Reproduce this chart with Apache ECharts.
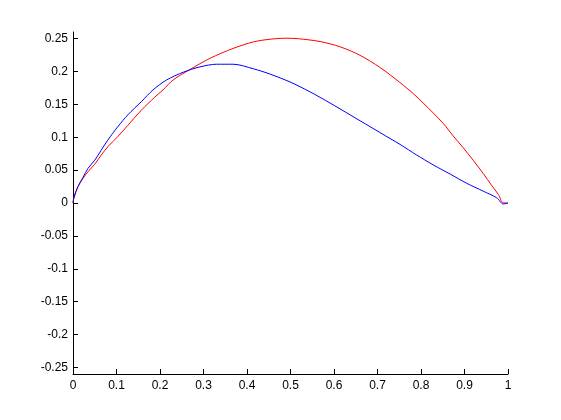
<!DOCTYPE html>
<html>
<head>
<meta charset="utf-8">
<script src="https://cdn.jsdelivr.net/npm/echarts@6/dist/echarts.min.js"></script>
<style>html,body{margin:0;padding:0;background:#fff}#c{width:561px;height:420px}</style>
</head>
<body>
<div id="c"></div>
<script>
const xTicks = [0, 0.1, 0.2, 0.3, 0.4, 0.5, 0.6, 0.7, 0.8, 0.9, 1];
const yTicks = [-0.25, -0.2, -0.15, -0.1, -0.05, 0, 0.05, 0.1, 0.15, 0.2, 0.25];

const redX = [0, 0.0023, 0.0115, 0.023, 0.0345, 0.05, 0.065, 0.08, 0.103, 0.126, 0.157, 0.188, 0.207, 0.23, 0.269, 0.315, 0.368, 0.415, 0.453, 0.49, 0.518, 0.568, 0.614, 0.66, 0.706, 0.752, 0.782, 0.805, 0.828, 0.851, 0.874, 0.897, 0.92, 0.943, 0.962, 0.978, 0.988, 1.0];
const redY = [0, 0.0074, 0.025, 0.0375, 0.0475, 0.059, 0.073, 0.0855, 0.101, 0.118, 0.141, 0.161, 0.172, 0.187, 0.203, 0.220, 0.235, 0.245, 0.249, 0.2505, 0.2498, 0.2455, 0.2375, 0.2245, 0.206, 0.183, 0.1665, 0.152, 0.137, 0.121, 0.102, 0.084, 0.065, 0.045, 0.027, 0.013, 0.0005, 0.0];

const blueX = [0, 0.0023, 0.0115, 0.023, 0.0345, 0.05, 0.065, 0.08, 0.103, 0.126, 0.157, 0.184, 0.215, 0.254, 0.292, 0.33, 0.368, 0.415, 0.453, 0.499, 0.545, 0.591, 0.637, 0.683, 0.729, 0.752, 0.79, 0.828, 0.867, 0.905, 0.943, 0.974, 0.989, 1.0];
const blueY = [0, 0.0096, 0.025, 0.039, 0.0527, 0.065, 0.0804, 0.0956, 0.116, 0.134, 0.154, 0.172, 0.187, 0.199, 0.207, 0.211, 0.211, 0.204, 0.196, 0.184, 0.169, 0.152, 0.134, 0.116, 0.098, 0.089, 0.073, 0.058, 0.044, 0.030, 0.018, 0.008, -0.0015, 0.0];

const zip = (xs, ys) => xs.map((x, i) => [x, ys[i]]);
const fmt = v => {
  if (Math.abs(v) < 1e-9) return '0';
  return String(+v.toFixed(2));
};
const font = {fontFamily: 'Liberation Sans, Arial, sans-serif', fontSize: 12, color: '#000'};

const chart = echarts.init(document.getElementById('c'), null, {renderer: 'canvas'});
chart.setOption({
  animation: false,
  backgroundColor: '#fff',
  grid: {left: 73, right: 53, top: 32, bottom: 46, containLabel: false},
  xAxis: {
    type: 'value', min: 0, max: 1, interval: 0.1,
    axisLine: {show: true, onZero: false, lineStyle: {color: '#000', width: 1}},
    axisTick: {show: true, inside: true, length: 5, lineStyle: {color: '#000'}, customValues: xTicks},
    axisLabel: Object.assign({margin: 6, formatter: fmt, customValues: xTicks}, font),
    splitLine: {show: false}
  },
  yAxis: {
    type: 'value', min: -0.26, max: 0.26,
    axisLine: {show: true, onZero: false, lineStyle: {color: '#000', width: 1}},
    axisTick: {show: true, inside: true, length: 5, lineStyle: {color: '#000'}, customValues: yTicks},
    axisLabel: Object.assign({margin: 5, formatter: fmt, customValues: yTicks}, font),
    splitLine: {show: false}
  },
  series: [
    {type: 'line', data: zip(redX, redY), smooth: 0.3, showSymbol: false, lineStyle: {color: '#ff0000', width: 1}, itemStyle: {color: '#ff0000'}, z: 2},
    {type: 'line', data: zip(blueX, blueY), smooth: 0.3, showSymbol: false, lineStyle: {color: '#0000ff', width: 1}, itemStyle: {color: '#0000ff'}, z: 3}
  ]
});
</script>
</body>
</html>
